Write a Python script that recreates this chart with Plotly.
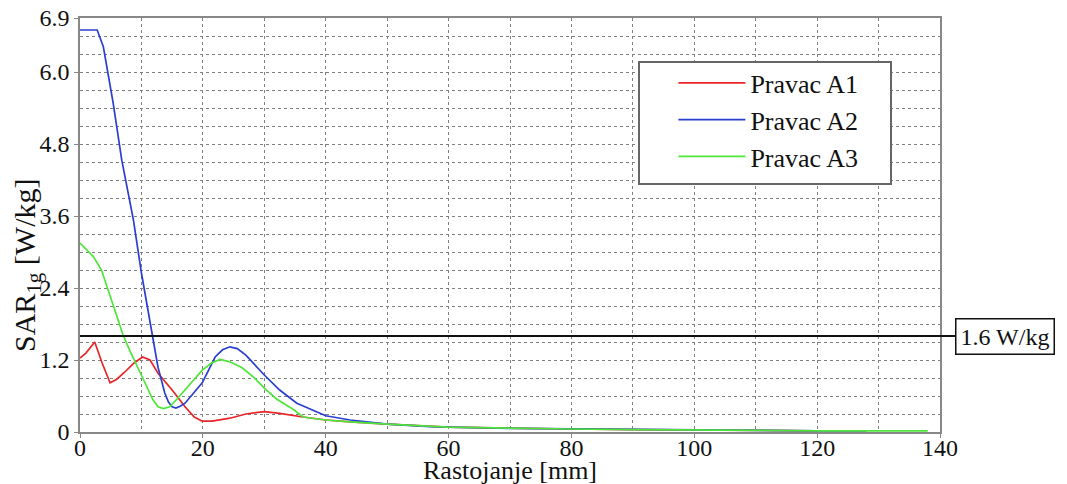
import plotly.graph_objects as go

# ---- data ----
a1_x = [0, 1, 2.4, 3.6, 4.9, 6, 7.3, 8.8, 10.2, 11.4, 12.7, 15, 17.1, 18.6, 19.9, 21.5,
        24.4, 27, 30, 32.5, 36.3, 40, 44, 50, 60, 70, 80, 90, 100, 110, 120]
a1_y = [1.23, 1.32, 1.50, 1.15, 0.82, 0.88, 1.00, 1.15, 1.25, 1.20, 0.98, 0.70, 0.42, 0.25, 0.18, 0.18,
        0.23, 0.30, 0.34, 0.31, 0.25, 0.20, 0.17, 0.13, 0.08, 0.06, 0.05, 0.04, 0.03, 0.02, 0.02]

a2_x = [0, 2.8, 3.8, 5.4, 6.8, 8.7, 10, 11.4, 12.7, 13.8, 14.4, 15, 15.6, 16.3, 17.1, 19.9,
        22, 23.2, 24.4, 25.6, 27, 30, 32.5, 35.3, 40, 44, 50, 57, 60, 70, 80, 90, 100, 110, 120, 128]
a2_y = [6.70, 6.70, 6.42, 5.48, 4.53, 3.53, 2.65, 1.87, 1.08, 0.65, 0.50, 0.42, 0.40, 0.43, 0.48, 0.82,
        1.25, 1.37, 1.42, 1.39, 1.28, 0.95, 0.70, 0.48, 0.27, 0.20, 0.13, 0.09, 0.08, 0.06, 0.05, 0.04, 0.03, 0.03, 0.02, 0.02]

a3_x = [0, 1, 2.2, 3.5, 4.5, 5.4, 6.2, 7, 8, 9, 10, 10.9, 11.8, 12.7, 13.6, 14.6, 15.8, 17.1, 18.5,
        19.9, 21.4, 22.8, 24.4, 26.4, 28.2, 30, 32, 34.8, 36.3, 40, 44, 50, 60, 70, 80, 90, 100, 110,
        120, 130, 138]
a3_y = [3.15, 3.05, 2.92, 2.70, 2.40, 2.12, 1.87, 1.62, 1.38, 1.17, 0.95, 0.75, 0.55, 0.42, 0.39, 0.42,
        0.55, 0.70, 0.87, 1.03, 1.15, 1.21, 1.17, 1.07, 0.92, 0.73, 0.55, 0.37, 0.25, 0.20, 0.17, 0.13,
        0.08, 0.06, 0.05, 0.04, 0.03, 0.02, 0.02, 0.02, 0.02]

series_names = ["Pravac A1", "Pravac A2", "Pravac A3"]
series_colors = ["#e8262a", "#2a3fd0", "#4fe63a"]

x_tickvals = [0, 20, 40, 60, 80, 100, 120, 140]
x_ticktext = ["0", "20", "40", "60", "80", "100", "120", "140"]
y_tickvals = [0, 1.2, 2.4, 3.6, 4.8, 6.0, 6.9]
y_ticktext = ["0", "1.2", "2.4", "3.6", "4.8", "6.0", "6.9"]

limit_value = 1.6
limit_label = "1.6 W/kg"
x_title = "Rastojanje [mm]"
y_title = "SAR<sub>1g</sub> [W/kg]"

FONT = '"Liberation Serif", "Times New Roman", serif'
TXT = "#111111"

fig = go.Figure()
for xs, ys, name, col in zip([a1_x, a2_x, a3_x], [a1_y, a2_y, a3_y], series_names, series_colors):
    fig.add_trace(go.Scatter(x=xs, y=ys, mode="lines", name=name,
                             line=dict(color=col, width=1.7)))

grid = dict(showgrid=True, gridcolor="#808080", gridwidth=1, griddash="dot")

# page has an 8px body offset -> figure is 1059x476 and margins are shifted by 8px
fig.update_layout(
    width=1059, height=476,
    margin=dict(l=72, r=127, t=10, b=52),
    paper_bgcolor="white", plot_bgcolor="white",
    font=dict(family=FONT, color=TXT),
    showlegend=True,
    legend=dict(x=0.69, y=0.90, xanchor="left", yanchor="top",
                bgcolor="rgba(0,0,0,0)", borderwidth=0,
                font=dict(family=FONT, size=26, color=TXT),
                itemwidth=67),
    xaxis=dict(range=[0, 140], tickvals=x_tickvals, ticktext=x_ticktext,
               tickfont=dict(family=FONT, size=24, color=TXT),
               ticks="outside", ticklen=4, tickcolor="#888888", ticklabelstandoff=-11,
               ticklabeloverflow="allow",
               showline=True, linecolor="#888888", linewidth=1.5, mirror=True,
               zeroline=False, automargin=False,
               minor=dict(dtick=10, tick0=0, showgrid=True, gridcolor="#808080", griddash="dot", ticks=""),
               **grid),
    yaxis=dict(range=[0, 6.9], tickvals=y_tickvals, ticktext=y_ticktext,
               tickfont=dict(family=FONT, size=24, color=TXT),
               ticks="outside", ticklen=4, tickcolor="#888888",
               ticklabeloverflow="allow",
               showline=True, linecolor="#888888", linewidth=1.5, mirror=True,
               zeroline=False, automargin=False,
               minor=dict(dtick=0.3, tick0=0, showgrid=True, gridcolor="#808080", griddash="dot", ticks=""),
               **grid),
)

# legend frame (wider than plotly's auto-sized box, as in the reference)
fig.add_shape(type="rect", xref="paper", yref="paper",
              x0=(639 - 80) / 860, x1=(891 - 80) / 860,
              y0=(432 - 184) / 414, y1=(432 - 62) / 414,
              fillcolor="white", line=dict(color="#666666", width=2), layer="above")

# axis titles
fig.add_annotation(xref="paper", yref="paper", x=0.5, y=0, xanchor="center", yanchor="middle",
                   yshift=-38, text=x_title, showarrow=False,
                   font=dict(family=FONT, size=26, color=TXT))
fig.add_annotation(xref="paper", yref="paper", x=(27 - 80) / 860, y=(432 - 265) / 414,
                   xanchor="center", yanchor="middle", textangle=-90,
                   text=y_title, showarrow=False,
                   font=dict(family=FONT, size=30, color=TXT))

fig.add_shape(type="line", xref="paper", yref="y", x0=0, x1=1.0174, y0=limit_value, y1=limit_value,
              line=dict(color=TXT, width=2), layer="above")
fig.add_annotation(xref="paper", yref="y", x=1.0174, y=limit_value, xanchor="left", yanchor="middle",
                   text=limit_label, showarrow=False,
                   font=dict(family=FONT, size=24, color=TXT),
                   bgcolor="white", bordercolor=TXT, borderwidth=1.5, borderpad=4)

fig.write_html("out.html")
